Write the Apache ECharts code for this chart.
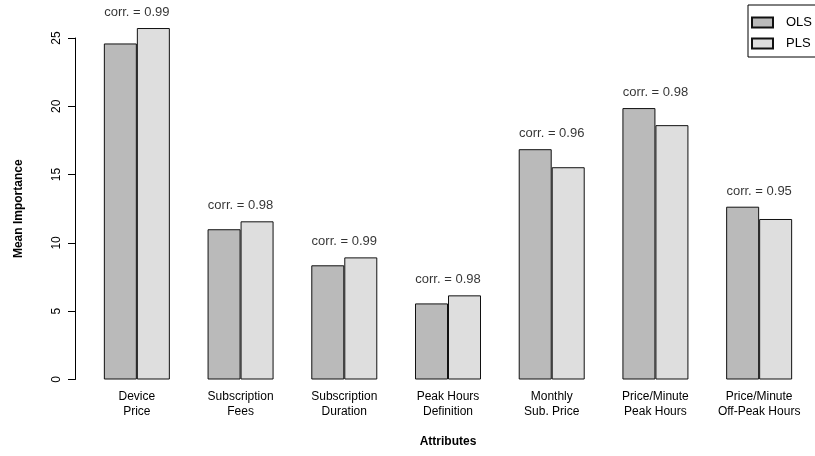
<!DOCTYPE html>
<html>
<head>
<meta charset="utf-8">
<script src="https://cdn.jsdelivr.net/npm/echarts@6/dist/echarts.min.js"></script>
<style>
html,body{margin:0;padding:0;background:#fff;}
#main{width:815px;height:456px;}
</style>
</head>
<body>
<div id="main"></div>
<script>
const categories = ['Device\nPrice', 'Subscription\nFees', 'Subscription\nDuration', 'Peak Hours\nDefinition', 'Monthly\nSub. Price', 'Price/Minute\nPeak Hours', 'Price/Minute\nOff-Peak Hours'];
const olsValues = [24.6, 11.0, 8.36, 5.57, 16.86, 19.87, 12.65];
const plsValues = [25.73, 11.58, 8.94, 6.16, 15.54, 18.62, 11.75];
const corrValues = ['0.99', '0.98', '0.99', '0.98', '0.96', '0.98', '0.95'];
const yTicks = [0, 5, 10, 15, 20, 25];

const FONT = 'Liberation Sans, Arial, Helvetica, sans-serif';
const chart = echarts.init(document.getElementById('main'));
const labelPoints = categories.map((c, i) => [i, Math.max(olsValues[i], plsValues[i])]);

chart.setOption({
  animation: false,
  backgroundColor: '#fff',
  textStyle: { fontFamily: FONT, color: '#000' },
  grid: { left: 85, right: 4, top: 38, bottom: 76.5, containLabel: false },
  legend: {
    data: ['OLS', 'PLS'],
    orient: 'vertical',
    icon: 'rect',
    left: 748,
    top: 5,
    padding: [11, 30, 7, 3],
    itemWidth: 21,
    itemHeight: 10,
    itemGap: 8,
    borderColor: '#000',
    borderWidth: 1,
    textStyle: { fontFamily: FONT, fontSize: 13, color: '#000', padding: [0, 0, 0, 8] }
  },
  xAxis: {
    type: 'category',
    data: categories,
    axisLine: { show: false },
    axisTick: { show: false },
    axisLabel: { fontFamily: FONT, fontSize: 12, color: '#000', lineHeight: 15, margin: 10, interval: 0 },
    name: 'Attributes',
    nameLocation: 'middle',
    nameGap: 56,
    nameTextStyle: { fontFamily: FONT, fontSize: 12, fontWeight: 'bold', color: '#000' }
  },
  yAxis: {
    type: 'value',
    min: yTicks[0],
    max: yTicks[yTicks.length - 1],
    interval: 5,
    offset: 10,
    axisLine: { show: true, lineStyle: { color: '#000', width: 1 } },
    axisTick: { show: true, length: 7, lineStyle: { color: '#000' } },
    axisLabel: { rotate: 90, fontFamily: FONT, fontSize: 12, color: '#000', margin: 12 },
    splitLine: { show: false },
    name: 'Mean Importance',
    nameLocation: 'middle',
    nameGap: 50,
    nameTextStyle: { fontFamily: FONT, fontSize: 12, fontWeight: 'bold', color: '#000' }
  },
  series: [
    {
      name: 'OLS', type: 'bar', data: olsValues, barWidth: 33, barGap: '0%', clip: false,
      itemStyle: { color: '#bababa', borderColor: '#111', borderWidth: 1 }
    },
    {
      name: 'PLS', type: 'bar', data: plsValues, barWidth: 33, barGap: '0%', clip: false,
      itemStyle: { color: '#dedede', borderColor: '#111', borderWidth: 1 }
    },
    {
      name: 'corr', type: 'scatter', data: labelPoints, symbolSize: 0, clip: false,
      silent: true,
      label: {
        show: true, position: 'top', distance: 9,
        fontFamily: FONT, fontSize: 13, color: '#000',
        formatter: p => 'corr. = ' + corrValues[p.dataIndex]
      }
    }
  ]
});
</script>
</body>
</html>
